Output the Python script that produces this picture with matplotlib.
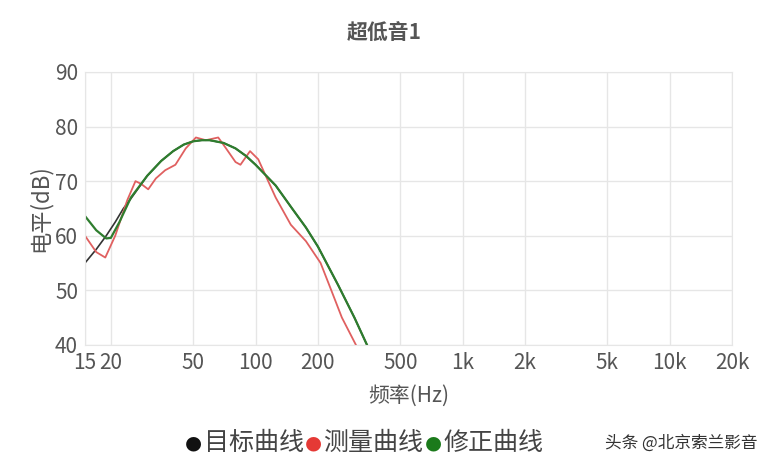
import matplotlib.pyplot as plt
import numpy as np

plt.rcParams['font.family'] = ['Noto Sans CJK SC', 'DejaVu Sans']

tick_freqs = [15, 20, 50, 100, 200, 500, 1000, 2000, 5000, 10000, 20000]
tick_labels = ["15", "20", "50", "100", "200", "500", "1k", "2k", "5k", "10k", "20k"]

target_f = [15, 17, 19, 21, 23, 25, 30, 35, 40, 45, 50, 55, 60, 70, 80, 90, 100, 125, 150, 175, 200, 250, 300, 345]
target_db = [55, 57.5, 60, 62.5, 65, 66.8, 71, 73.7, 75.5, 76.7, 77.3, 77.5, 77.5, 77, 76, 74.6, 73, 69.2, 65, 61.5, 58, 51, 45, 40]

measured_f = [15, 17, 18.8, 21, 24, 26.3, 28, 30.3, 33, 36.6, 41, 46, 51.5, 57.5, 66, 72, 80, 84.5,
              94, 103, 115, 125, 148, 175, 206, 232, 261, 305]
measured_db = [60, 57, 56, 60, 66.5, 70, 69.5, 68.5, 70.5, 72, 73, 76, 78, 77.5, 78, 76, 73.5, 73,
               75.5, 74, 70, 67, 62, 59, 55, 50, 45, 40]

corrected_f = [15, 17, 19, 20, 22, 25, 30, 35, 40, 45, 50, 55, 60, 70, 80, 90, 100, 125, 150, 175, 200, 250, 300, 345]
corrected_db = [63.6, 61, 59.5, 59.6, 62.5, 67, 71, 73.7, 75.5, 76.7, 77.3, 77.5, 77.5, 77, 76, 74.6, 73, 69.2, 65, 61.5, 58, 51, 45, 40]

fig = plt.figure(figsize=(7.69, 4.66), dpi=100)
ax = fig.add_axes([0.1105, 0.26, 0.8415, 0.5855])
ax.plot(target_f, target_db, color="#333333", lw=1.2)
ax.plot(measured_f, measured_db, color="#e06060", lw=1.3)
ax.plot(corrected_f, corrected_db, color="#2e7d2e", lw=1.6)

ax.set_xscale("log")
ax.set_xlim(15, 20000)
ax.set_ylim(40, 90)
ax.set_xticks(tick_freqs)
ax.set_xticklabels(tick_labels)
ax.minorticks_off()
ax.set_yticks(range(40, 91, 10))
ax.grid(True, color="#e6e6e6", lw=1)
for s in ax.spines.values():
    s.set_color("#e6e6e6")
ax.tick_params(length=0, labelsize=15, colors="#555555", pad=5)
ax.set_xlabel("频率(Hz)", fontsize=15, color="#555555", labelpad=8)
ax.set_ylabel("电平(dB)", fontsize=16, color="#555555", labelpad=2)

fig.text(0.5, 0.915, "超低音1", ha="center", fontsize=15, fontweight="bold", color="#555555")

legend_items = [("目标曲线", "#111111", 0.265), ("测量曲线", "#e53935", 0.42), ("修正曲线", "#1b7a1b", 0.577)]
for name, col, xx in legend_items:
    fig.text(xx - 0.002, 0.05, "●", color=col, fontsize=14, ha="right", va="center",
             family=['DejaVu Sans'])
    fig.text(xx, 0.05, name, color="#444444", fontsize=18, ha="left", va="center")

fig.text(0.985, 0.05, "头条 @北京索兰影音", color="#333333", fontsize=12, ha="right", va="center")

fig.savefig("out.png", dpi=100)
